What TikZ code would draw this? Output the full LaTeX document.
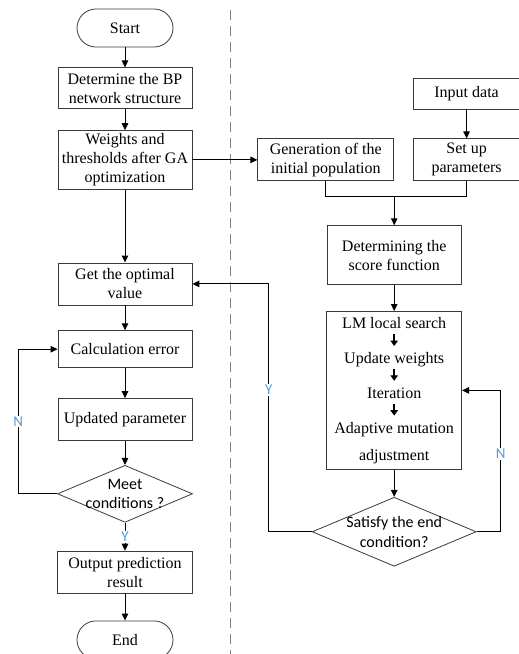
\documentclass[tikz,border=0pt]{standalone}
\usepackage{fontspec}
\setmainfont{Liberation Serif}
\newfontfamily\calibri{Carlito}
\usetikzlibrary{positioning, shapes.geometric, arrows.meta}
\definecolor{ynBlue}{HTML}{5B9BD5}
\definecolor{edgeGray}{HTML}{3A3A3A}
\newcommand{\lmarrow}{\tikz[baseline=-1pt]\draw[-{Triangle[length=5.5pt,width=7.5pt]}, line width=1.8pt] (0pt,11pt) -- (0pt,-1pt);}

\begin{document}
\begin{tikzpicture}[x=1pt, y=-1pt,
  box/.style={draw=edgeGray, line width=0.8pt, align=center, font=\fontsize{16}{19}\selectfont, inner sep=3pt},
  term/.style={box, rounded corners=19pt, minimum width=96pt, minimum height=38pt},
  dec/.style={draw=edgeGray, line width=0.8pt, diamond, inner sep=0pt},
  dtext/.style={align=center, font=\calibri\fontsize{16}{19.5}\selectfont},
  yn/.style={font=\calibri\fontsize{15}{15}\selectfont, text=ynBlue, fill=white, inner sep=1pt},
  arr/.style={-{Triangle[length=7pt,width=6.5pt]}, line width=1pt},
  divider/.style={draw=gray, line width=1pt, dash pattern=on 10pt off 6pt}
]
\useasboundingbox (0,0) rectangle (519,654);

\node[term] (start) at (125,28) {Start};
\node[box, minimum width=134pt, minimum height=41pt, below=20pt of start] (bp) {Determine the BP\\network structure};
\node[box, minimum width=134pt, minimum height=58pt, below=21pt of bp] (ga) {Weights and\\thresholds after GA\\optimization};
\node[box, minimum width=134pt, minimum height=42pt, below=73pt of ga] (opt) {Get the optimal\\value};
\node[box, minimum width=134pt, minimum height=37pt, below=25pt of opt] (err) {Calculation error};
\node[box, minimum width=134pt, minimum height=42pt, below=30pt of err] (upd) {Updated parameter};
\node[dec, minimum width=135pt, minimum height=57pt, below=24pt of upd,
  label={[dtext]center:{Meet\\conditions ?}}] (meet) {};
\node[box, minimum width=135pt, minimum height=42pt, below=28pt of meet] (pred) {Output prediction\\result};
\node[term, below=27pt of pred] (fin) {End};

\node[box, minimum width=136pt, minimum height=42pt, right=65pt of ga] (pop) {Generation of the\\initial population};
\node[box, minimum width=106pt, minimum height=42pt, right=19pt of pop] (par) {Set up\\parameters};
\node[box, minimum width=106pt, minimum height=31pt, above=29pt of par] (inp) {Input data};
\node[box, minimum width=134pt, minimum height=59pt, below=44pt of pop.south east] (score) {Determining the\\score function};
\node[box, minimum width=135pt, minimum height=158pt, below=26pt of score, font=\fontsize{16}{17.4}\selectfont] (lm)
  {LM local search\\\lmarrow\\Update weights\\\lmarrow\\Iteration\\\lmarrow\\Adaptive mutation\\[9.6pt]adjustment};
\node[dec, minimum width=164pt, minimum height=69pt, below=27pt of lm,
  label={[dtext]center:{Satisfy the end\\condition?}}] (sat) {};

\coordinate[above=29pt of score.north] (jn);
\coordinate[left=43pt of sat.west] (yl);
\coordinate[right=24pt of sat.east] (nr);
\coordinate[left=39pt of meet.west] (nl);

\draw[divider] (230.5,10) -- (230.5,654);

\draw[arr] (start) -- (bp);
\draw[arr] (bp) -- (ga);
\draw[arr] (ga) -- (opt);
\draw[arr] (opt) -- (err);
\draw[arr] (err) -- (upd);
\draw[arr] (upd) -- (meet);
\draw[arr] (meet) -- (pred) node[midway, yn] {Y};
\draw[arr] (pred) -- (fin);
\draw[arr] (ga) -- (pop);
\draw[arr] (inp) -- (par);
\draw[line width=1pt] (pop.south) |- (jn) -| (par.south);
\draw[arr] (jn) -- (score);
\draw[arr] (score) -- (lm);
\draw[arr] (lm) -- (sat);
\draw[arr] (sat.west) -- (yl) |- (opt.east) node[pos=0.286, yn] {Y};
\draw[arr] (sat.east) -- (nr) |- (lm.east) node[pos=0.276, yn] {N};
\draw[arr] (meet.west) -- (nl) |- (err.west) node[pos=0.25, yn] {N};
\end{tikzpicture}
\end{document}
